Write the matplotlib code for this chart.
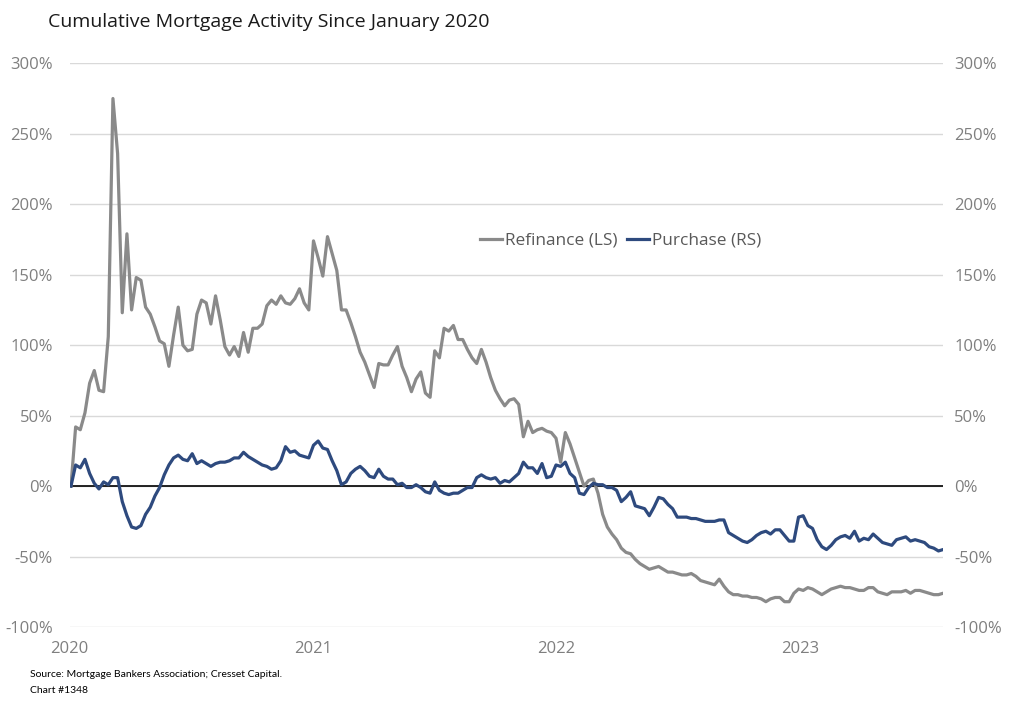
import matplotlib
matplotlib.use("Agg")
import matplotlib.pyplot as plt
import matplotlib.dates as mdates
import numpy as np
import pandas as pd

dates = pd.date_range("2020-01-03", periods=188, freq="7D")

refinance = [
    0, 42, 40, 52, 73, 82, 68, 67, 106, 275,
    236, 123, 179, 125, 148, 146, 127, 122, 113, 103,
    101, 85, 107, 127, 100, 96, 97, 122, 132, 130,
    115, 135, 118, 99, 93, 99, 92, 109, 95, 112,
    112, 115, 128, 132, 129, 135, 130, 129, 133, 140,
    130, 125, 174, 162, 149, 177, 165, 153, 125, 125,
    116, 106, 95, 88, 79, 70, 87, 86, 86, 93,
    99, 85, 77, 67, 76, 81, 66, 63, 96, 91,
    112, 110, 114, 104, 104, 97, 91, 87, 97, 88,
    77, 68, 62, 57, 61, 62, 58, 35, 46, 38,
    40, 41, 39, 38, 34, 17, 38, 30, 20, 10,
    0, 4, 5, -5, -20, -29, -34, -38, -44, -47,
    -48, -52, -55, -57, -59, -58, -57, -59, -61, -61,
    -62, -63, -63, -62, -64, -67, -68, -69, -70, -66,
    -71, -75, -77, -77, -78, -78, -79, -79, -80, -82,
    -80, -79, -79, -82, -82, -76, -73, -74, -72, -73,
    -75, -77, -75, -73, -72, -71, -72, -72, -73, -74,
    -74, -72, -72, -75, -76, -77, -75, -75, -75, -74,
    -76, -74, -74, -75, -76, -77, -77, -76,
]

purchase = [
    0, 15, 13, 19, 9, 2, -2, 3, 1, 6,
    6, -11, -21, -29, -30, -28, -20, -15, -7, -1,
    8, 15, 20, 22, 19, 18, 23, 16, 18, 16,
    14, 16, 17, 17, 18, 20, 20, 24, 21, 19,
    17, 15, 14, 12, 13, 18, 28, 24, 25, 22,
    21, 20, 29, 32, 27, 26, 18, 11, 1, 3,
    9, 12, 14, 11, 7, 6, 12, 7, 5, 5,
    1, 2, -1, -1, 1, -1, -4, -5, 3, -3,
    -5, -6, -5, -5, -3, -1, -1, 6, 8, 6,
    5, 6, 2, 4, 3, 6, 9, 17, 13, 13,
    9, 16, 6, 7, 15, 14, 17, 9, 6, -5,
    -6, -1, 2, 1, 1, -1, -1, -3, -11, -8,
    -4, -14, -15, -16, -21, -15, -8, -9, -13, -16,
    -22, -22, -22, -23, -23, -24, -25, -25, -25, -24,
    -24, -33, -35, -37, -39, -40, -38, -35, -33, -32,
    -34, -31, -31, -35, -39, -39, -22, -21, -28, -30,
    -38, -43, -45, -42, -38, -36, -35, -37, -32, -39,
    -37, -38, -34, -37, -40, -41, -42, -38, -37, -36,
    -39, -38, -39, -40, -43, -44, -46, -45,
]

yticks = [-100, -50, 0, 50, 100, 150, 200, 250, 300]
ytick_labels = [f"{v}%" for v in yticks]
years = ["2020", "2021", "2022", "2023"]

grey_text = "#7f7f7f"
ref_color = "#8a8a8a"
pur_color = "#2e4a7e"

plt.rcParams["font.family"] = ["Open Sans", "DejaVu Sans"]

fig = plt.figure(figsize=(10.24, 7.03), dpi=100)
ax = fig.add_axes([0.068, 0.108, 0.853, 0.802])
ax2 = ax.twinx()

x0 = pd.Timestamp("2020-01-01")
x1 = dates[-1]
for a in (ax, ax2):
    a.set_ylim(-100, 300)
    a.set_xlim(x0, x1)
    a.set_yticks(yticks)
    a.set_yticklabels(ytick_labels)
    a.tick_params(axis="y", length=0, labelsize=12, labelcolor=grey_text, pad=12)
    for s in a.spines.values():
        s.set_visible(False)

ax.grid(axis="y", color="#d9d9d9", linewidth=1)
ax.set_axisbelow(True)
ax.axhline(0, color="black", linewidth=1.2, zorder=2)

l1, = ax.plot(dates, refinance, color=ref_color, linewidth=2.3, zorder=3,
              label="Refinance (LS)")
l2, = ax2.plot(dates, purchase, color=pur_color, linewidth=2.3, zorder=3,
               label="Purchase (RS)")

ax.set_xticks([pd.Timestamp(f"{y}-01-01") for y in years])
ax.set_xticklabels(years)
ax.tick_params(axis="x", length=0, labelsize=12, labelcolor=grey_text, pad=10)
ax2.tick_params(axis="y", pad=8)

leg = ax.legend(handles=[l1, l2], loc="center", bbox_to_anchor=(0.631, 0.685),
                ncol=2, frameon=False, fontsize=12.4, handlelength=1.25,
                handletextpad=0.2, columnspacing=0.55)
for t in leg.get_texts():
    t.set_color("#595959")

fig.text(0.047, 0.968, "Cumulative Mortgage Activity Since January 2020",
         fontsize=14, color="#1a1a1a", ha="left", va="center")
fig.text(0.029, 0.040, "Source: Mortgage Bankers Association; Cresset Capital.",
         fontsize=7.5, color="black", ha="left", va="center", family="Lato")
fig.text(0.029, 0.018, "Chart #1348", fontsize=7.5, color="black",
         ha="left", va="center", family="Lato")

fig.savefig("out.png", dpi=100)
